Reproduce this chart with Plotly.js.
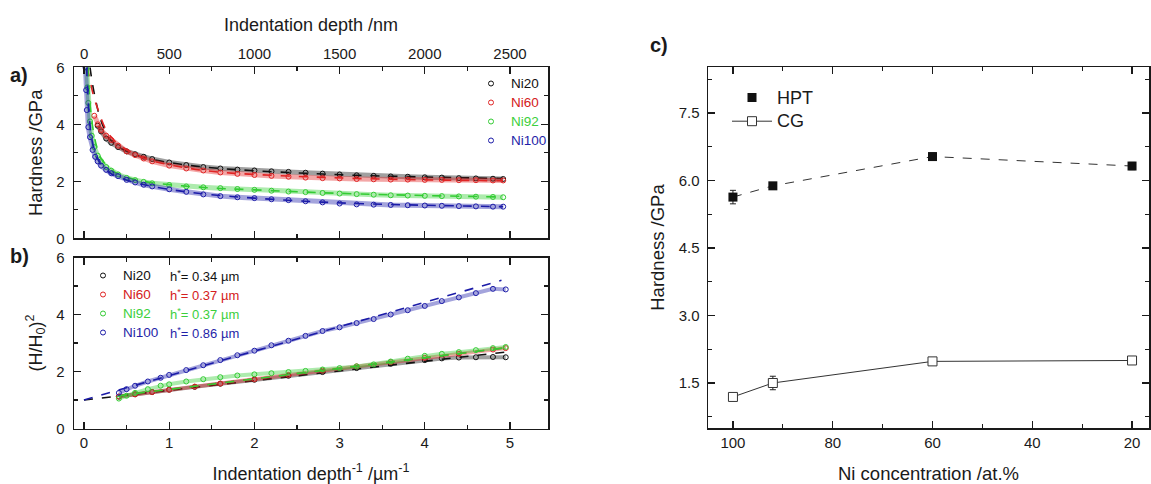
<!DOCTYPE html>
<html>
<head>
<meta charset="utf-8">
<script src="https://cdn.plot.ly/plotly-3.0.1.min.js"></script>
<style>html,body{margin:0;padding:0;background:#fff;}#chart{width:1151px;height:484px;}</style>
</head>
<body>
<div id="chart"></div>
<script>
// ---------- Panel a: hardness vs indentation depth (nm) ----------
const depthNi20 = [80,100,130,160,200,250,300,350,400,500,600,700,800,900,1000,1100,1200,1300,1400,1500,1600,1700,1800,1900,2000,2100,2200,2300,2400,2460];
const hardNi20  = [3.95,3.75,3.5,3.35,3.2,3.05,2.95,2.86,2.78,2.66,2.57,2.5,2.45,2.41,2.38,2.35,2.33,2.3,2.27,2.24,2.21,2.19,2.17,2.16,2.14,2.13,2.11,2.1,2.09,2.08];
const depthNi60 = [60,80,100,130,160,200,250,300,350,400,500,600,700,800,900,1000,1100,1200,1300,1400,1500,1600,1700,1800,1900,2000,2100,2200,2300,2400,2460];
const hardNi60  = [4.3,4.0,3.8,3.6,3.45,3.25,3.05,2.92,2.8,2.7,2.55,2.45,2.38,2.31,2.26,2.22,2.19,2.16,2.13,2.11,2.1,2.08,2.07,2.06,2.06,2.05,2.05,2.04,2.04,2.03,2.03];
const depthNi92 = [15,20,25,35,45,60,80,100,130,160,200,250,300,350,400,500,600,700,800,900,1000,1100,1200,1300,1400,1500,1600,1700,1800,1900,2000,2100,2200,2300,2400,2460];
const hardNi92  = [6.0,5.3,4.75,4.1,3.6,3.2,2.9,2.7,2.5,2.37,2.24,2.12,2.04,1.98,1.93,1.87,1.82,1.79,1.76,1.73,1.7,1.67,1.64,1.62,1.59,1.57,1.55,1.53,1.51,1.5,1.49,1.48,1.47,1.46,1.45,1.44];
const depthNi100 = [8,12,16,25,35,50,65,80,100,130,160,200,250,300,350,400,500,600,700,800,900,1000,1100,1200,1300,1400,1500,1600,1700,1800,1900,2000,2100,2200,2300,2400,2460];
const hardNi100  = [6.0,5.2,4.5,3.9,3.55,3.1,2.86,2.7,2.55,2.4,2.28,2.18,2.05,1.96,1.88,1.82,1.72,1.63,1.54,1.48,1.44,1.41,1.37,1.34,1.3,1.26,1.22,1.19,1.18,1.17,1.16,1.15,1.14,1.13,1.12,1.11,1.11];

const fitDepthNi20 = [35,50,70,90,113,150,200,300,400,600,800,1000,1300,1600,2000,2460];
const fitHardNi20  = [6.0,5.4,4.8,4.3,3.92,3.5,3.22,2.93,2.77,2.57,2.45,2.37,2.28,2.21,2.15,2.1];
const fitDepthNi60 = [20,40,60,80,100,130,160,200,300,400,600,800,1000,1300,1600,2000,2460];
const fitHardNi60  = [6.0,5.4,4.9,4.55,4.2,3.8,3.55,3.3,2.95,2.72,2.47,2.32,2.24,2.16,2.1,2.05,2.02];
const fitDepthNi92 = [22,30,40,55,75,100,150,200,300,400,600,800,1000,1300,1600,2000,2460];
const fitHardNi92  = [6.0,5.1,4.4,3.75,3.2,2.8,2.45,2.26,2.06,1.95,1.83,1.75,1.7,1.62,1.56,1.5,1.45];
const fitDepthNi100 = [15,22,30,45,65,100,150,200,300,400,600,800,1000,1300,1600,2000,2460];
const fitHardNi100  = [6.0,5.0,4.3,3.5,3.0,2.58,2.3,2.15,1.95,1.82,1.63,1.5,1.41,1.3,1.22,1.16,1.11];

// ---------- Panel b: (H/H0)^2 vs 1/depth (µm^-1) ----------
const invNi20 = [0.41,0.6,0.8,1.0,1.3,1.6,2.0,2.4,2.8,3.2,3.6,4.0,4.2,4.4,4.6,4.8,4.95];
const ratioNi20 = [1.12,1.2,1.28,1.36,1.46,1.57,1.71,1.85,1.98,2.12,2.27,2.4,2.46,2.49,2.5,2.51,2.5];
const invNi60 = [0.41,0.6,0.8,1.0,1.3,1.6,2.0,2.4,2.8,3.2,3.6,4.0,4.4,4.8,4.95];
const ratioNi60 = [1.12,1.2,1.28,1.36,1.47,1.58,1.73,1.88,2.03,2.18,2.33,2.48,2.62,2.77,2.82];
const invNi92 = [0.41,0.5,0.6,0.75,0.9,1.0,1.2,1.4,1.6,1.8,2.0,2.2,2.4,2.6,2.8,3.0,3.2,3.4,3.6,3.8,4.0,4.2,4.4,4.6,4.8,4.95];
const ratioNi92 = [1.05,1.15,1.25,1.38,1.5,1.55,1.65,1.73,1.8,1.86,1.9,1.94,1.98,2.02,2.07,2.12,2.18,2.25,2.35,2.45,2.55,2.62,2.68,2.75,2.82,2.86];
const invNi100 = [0.41,0.5,0.6,0.75,0.9,1.0,1.2,1.4,1.6,1.8,2.0,2.2,2.4,2.6,2.8,3.0,3.2,3.4,3.6,3.8,4.0,4.2,4.4,4.6,4.8,4.95];
const ratioNi100 = [1.25,1.38,1.5,1.65,1.78,1.88,2.05,2.22,2.4,2.57,2.73,2.92,3.08,3.25,3.42,3.55,3.7,3.84,4.0,4.15,4.3,4.47,4.6,4.75,4.9,4.88];

const fitInvNi20 = [0, 5.0],  fitRatioNi20 = [1.0, 2.7];
const fitInvNi60 = [0.4, 5.0], fitRatioNi60 = [1.15, 2.85];
const fitInvNi92 = [0.4, 5.0], fitRatioNi92 = [1.15, 2.85];
const fitInvNi100 = [0, 4.9], fitRatioNi100 = [1.0, 5.2];

const seriesNames = ['Ni20','Ni60','Ni92','Ni100'];
const hStar = ['0.34','0.37','0.37','0.86'];

// ---------- Panel c: hardness vs Ni concentration ----------
const niConc = [100, 92, 60, 20];
const hardHPT = [5.63, 5.88, 6.53, 6.32];
const errHPT  = [0.15, 0.05, 0.08, 0.08];
const hardCG  = [1.19, 1.5, 1.98, 2.0];
const errCG   = [0.04, 0.15, 0.04, 0.03];

// ---------- styling ----------
const W = 1151, H = 484;
const FONT = 'Arial, "Liberation Sans", sans-serif';
const INK = '#1a1a1a';
const colors = ['#111111', '#e02424', '#33cc33', '#1c1ca8'];
const bandColors = ['rgba(17,17,17,0.40)','rgba(224,36,36,0.40)','rgba(51,204,51,0.40)','rgba(28,28,168,0.40)'];
const textColors = ['#111111', '#d42020', '#3ccf3c', '#1f1fa8'];

const dA = [[depthNi20,hardNi20],[depthNi60,hardNi60],[depthNi92,hardNi92],[depthNi100,hardNi100]];
const fA = [[fitDepthNi20,fitHardNi20],[fitDepthNi60,fitHardNi60],[fitDepthNi92,fitHardNi92],[fitDepthNi100,fitHardNi100]];
const dB = [[invNi20,ratioNi20],[invNi60,ratioNi60],[invNi92,ratioNi92],[invNi100,ratioNi100]];
const fB = [[fitInvNi20,fitRatioNi20],[fitInvNi60,fitRatioNi60],[fitInvNi92,fitRatioNi92],[fitInvNi100,fitRatioNi100]];

const legendName = i => '<span style="color:' + textColors[i] + ';font-size:13.5px">' + seriesNames[i] + '</span>';

const traces = [];
for (let i = 0; i < 4; i++) {
  traces.push({x: dA[i][0], y: dA[i][1], xaxis:'x', yaxis:'y', mode:'lines', showlegend:false, hoverinfo:'skip',
    line:{color: bandColors[i], width: 5}});
  traces.push({x: dA[i][0], y: dA[i][1], xaxis:'x', yaxis:'y', mode:'markers', legend:'legend',
    name: legendName(i),
    marker:{symbol:'circle-open', size:5, color: colors[i], line:{width:1, color: colors[i]}}});
  traces.push({x: fA[i][0], y: fA[i][1], xaxis:'x', yaxis:'y', mode:'lines', showlegend:false,
    line:{color: colors[i], width:1.6, dash:'dash', shape:'spline'}});
}
for (let i = 0; i < 4; i++) {
  traces.push({x: dB[i][0], y: dB[i][1], xaxis:'x2', yaxis:'y2', mode:'lines', showlegend:false, hoverinfo:'skip',
    line:{color: bandColors[i], width: 4}});
  traces.push({x: dB[i][0], y: dB[i][1], xaxis:'x2', yaxis:'y2', mode:'markers', legend:'legend2',
    name: legendName(i),
    marker:{symbol:'circle-open', size:5, color: colors[i], line:{width:1, color: colors[i]}}});
  traces.push({x: fB[i][0], y: fB[i][1], xaxis:'x2', yaxis:'y2', mode:'lines', showlegend:false,
    line:{color: colors[i], width:1.6, dash:'dash'}});
}
// panel c
traces.push({x: niConc, y: hardHPT, xaxis:'x3', yaxis:'y3', mode:'lines', showlegend:false,
  line:{color:'#333', width:1, dash:'dash'}});
traces.push({x: niConc, y: hardHPT, xaxis:'x3', yaxis:'y3', mode:'markers', legend:'legend3',
  name:'<span style="font-size:18px">HPT</span>',
  marker:{symbol:'square', size:9, color:'#111'},
  error_y:{type:'data', array: errHPT, color:'#222', thickness:1, width:3}});
traces.push({x: niConc, y: hardCG, xaxis:'x3', yaxis:'y3', mode:'lines+markers', legend:'legend3',
  name:'<span style="font-size:18px">CG</span>',
  line:{color:'#333', width:1},
  marker:{symbol:'square', size:9, color:'#fff', line:{color:'#333', width:1}},
  error_y:{type:'data', array: errCG, color:'#222', thickness:1, width:3}});

const px2x = p => p / W;
const px2y = p => 1 - p / H;

function axisBase(extra) {
  return Object.assign({
    showgrid:false, zeroline:false, showline:true, linecolor:INK, linewidth:1.5,
    mirror:'allticks', ticks:'inside', ticklen:7, tickwidth:1.2, tickcolor:INK,
    tickfont:{family:FONT, size:15, color:INK}, ticklabelstandoff:4,
  }, extra);
}
const titleFont = s => ({family:FONT, size:s, color:INK});

const layout = {
  width: W, height: H,
  margin:{l:0, r:0, t:0, b:0},
  paper_bgcolor:'#fff', plot_bgcolor:'#fff',
  font:{family:FONT, color:INK},
  showlegend:true,
  xaxis: axisBase({domain:[px2x(74), px2x(548)], anchor:'y', side:'top', range:[-59, 2723],
    tick0:0, dtick:500, ticklabelstandoff:1, minor:{dtick:250, ticklen:4, ticks:'inside', tickcolor:INK},
    title:{text:'Indentation depth /nm', font:titleFont(18), standoff:8}}),
  yaxis: axisBase({domain:[px2y(238.3), px2y(67.3)], anchor:'x', range:[0, 6],
    tick0:0, dtick:2, ticklabelstandoff:5, minor:{dtick:1, ticklen:4, ticks:'inside', tickcolor:INK},
    title:{text:'Hardness /GPa', font:titleFont(18.5), standoff:8}}),
  xaxis2: axisBase({domain:[px2x(74), px2x(548)], anchor:'y2', range:[-0.117, 5.446],
    tick0:0, dtick:1, ticklabelstandoff:0, minor:{dtick:0.5, ticklen:4, ticks:'inside', tickcolor:INK},
    title:{text:'Indentation depth<sup>-1</sup> /µm<sup>-1</sup>', font:titleFont(18), standoff:26}}),
  yaxis2: axisBase({domain:[px2y(428.5), px2y(257.5)], anchor:'x2', range:[0, 6],
    tick0:0, dtick:2, ticklabelstandoff:5, minor:{dtick:1, ticklen:4, ticks:'inside', tickcolor:INK},
    title:{text:'(H/H<sub>0</sub>)<sup>2</sup>', font:titleFont(18), standoff:9}}),
  xaxis3: axisBase({domain:[px2x(708), px2x(1149)], anchor:'y3', range:[105, 16.6],
    tick0:0, dtick:20, ticklabelstandoff:0, minor:{dtick:10, ticklen:4, ticks:'inside', tickcolor:INK},
    title:{text:'Ni concentration /at.%', font:titleFont(18.5), standoff:23}}),
  yaxis3: axisBase({domain:[px2y(428), px2y(67)], anchor:'x3', range:[0.5, 8.52],
    tick0:1.5, dtick:1.5, tickformat:'.1f', minor:{dtick:0.75, tick0:0.75, ticklen:4, ticks:'inside', tickcolor:INK},
    title:{text:'Hardness /GPa', font:titleFont(18.5), standoff:9}}),
  legend:{x:px2x(471), y:px2y(69), xanchor:'left', yanchor:'top', bgcolor:'rgba(0,0,0,0)',
    font:{family:FONT, size:12, color:INK}, tracegroupgap:0},
  legend2:{x:px2x(83), y:px2y(261), xanchor:'left', yanchor:'top', bgcolor:'rgba(0,0,0,0)',
    font:{family:FONT, size:12, color:INK}, tracegroupgap:0},
  legend3:{x:px2x(727), y:px2y(80.5), xanchor:'left', yanchor:'top', bgcolor:'rgba(0,0,0,0)',
    font:{family:FONT, size:16, color:INK}, tracegroupgap:0, itemwidth:40},
  annotations: [
    {text:'<b>a)</b>', xref:'paper', yref:'paper', x:px2x(8), y:px2y(75), xanchor:'left', yanchor:'middle', showarrow:false, font:{family:FONT, size:20, color:INK}},
    {text:'<b>b)</b>', xref:'paper', yref:'paper', x:px2x(8), y:px2y(256), xanchor:'left', yanchor:'middle', showarrow:false, font:{family:FONT, size:20, color:INK}},
    {text:'<b>c)</b>', xref:'paper', yref:'paper', x:px2x(648), y:px2y(45), xanchor:'left', yanchor:'middle', showarrow:false, font:{family:FONT, size:20, color:INK}},
  ]
};
for (let i = 0; i < 4; i++) {
  layout.annotations.push({text:'h<sup>*</sup>= ' + hStar[i] + ' µm', xref:'paper', yref:'paper',
    x:px2x(168), y:px2y(275.5 + i*19), xanchor:'left', yanchor:'middle', showarrow:false,
    font:{family:FONT, size:13, color:textColors[i]}});
}

Plotly.newPlot('chart', traces, layout, {staticPlot:true, displayModeBar:false});
</script>
</body>
</html>
